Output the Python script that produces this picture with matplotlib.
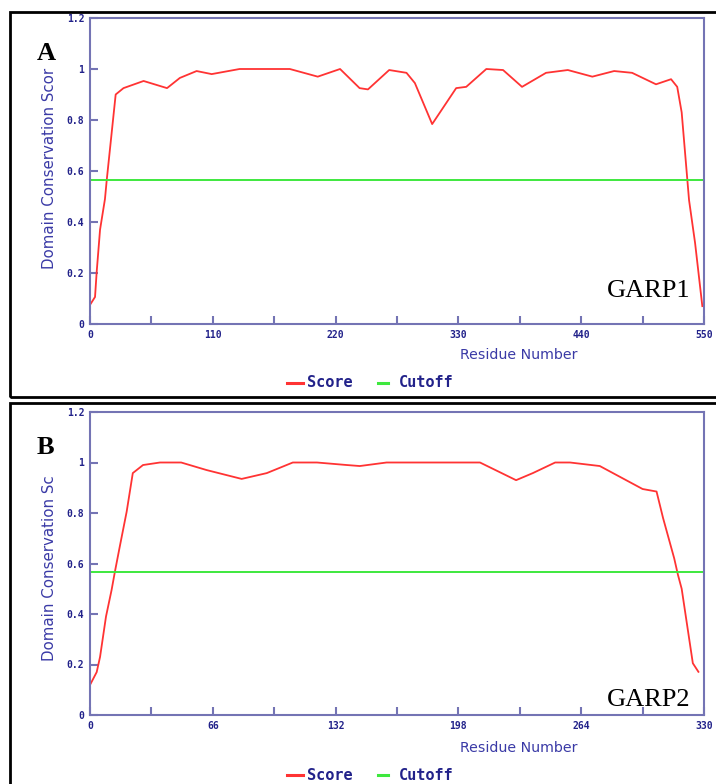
import matplotlib
matplotlib.use("Agg")
import matplotlib.pyplot as plt
from matplotlib.patches import Rectangle
from matplotlib.lines import Line2D

# GARP1 conservation profile (residue, score)
garp1_res = [0, 4.5, 6, 9, 13.4, 15, 23, 30, 48, 69, 80.5, 95.5, 109, 134, 179, 204,
             224, 241.5, 249, 268, 283.5, 291, 306.5, 328, 337, 355, 370, 387, 408.5,
             428, 450, 469.5, 485.6, 507, 520.5, 526, 530, 536.6, 542, 548.5]
garp1_score = [0.075, 0.106, 0.205, 0.37, 0.49, 0.565, 0.90, 0.925, 0.953, 0.925, 0.965,
               0.992, 0.98, 1.0, 1.0, 0.97, 1.0, 0.925, 0.92, 0.996, 0.985, 0.945, 0.784,
               0.925, 0.93, 1.0, 0.996, 0.93, 0.985, 0.996, 0.97, 0.992, 0.985, 0.94,
               0.96, 0.93, 0.83, 0.486, 0.318, 0.07]
garp1_cutoff = 0.565
garp1_ticks = [0, 110, 220, 330, 440, 550]

# GARP2 conservation profile
garp2_res = [0, 3.6, 5.4, 8.6, 11.6, 13.4, 16, 19.7, 23, 28.5, 37.6, 49, 62.7, 81.5, 95,
             109, 122, 138, 145, 159.4, 209.6, 229, 238, 250, 258, 274, 297, 304.5, 308,
             314, 316, 318, 324, 327]
garp2_score = [0.119, 0.17, 0.23, 0.39, 0.495, 0.568, 0.667, 0.805, 0.958, 0.99, 1.0, 1.0,
               0.97, 0.935, 0.958, 1.0, 1.0, 0.99, 0.986, 1.0, 1.0, 0.93, 0.958, 1.0, 1.0,
               0.986, 0.895, 0.885, 0.78, 0.62, 0.555, 0.5, 0.205, 0.171]
garp2_cutoff = 0.565
garp2_ticks = [0, 66, 132, 198, 264, 330]

y_ticks = [0, 0.2, 0.4, 0.6, 0.8, 1.0, 1.2]
y_ticklabels = ["0", "0.2", "0.4", "0.6", "0.8", "1", "1.2"]

W, H = 716, 784
SPINE = "#7474b4"
NAVY = "#22228a"
LABEL = "#3a3aa6"
RED = "#ff3333"
GREEN = "#3ee83e"

fig = plt.figure(figsize=(W / 100, H / 100), dpi=100)


def fx(px):
    return px / W


def fy(py):
    return 1 - py / H


def panel(res, score, cutoff, ticks, top, bottom, frame_top, frame_bottom,
          letter, name, ylabel, name_y, xlabel_y, legend_y, ylabel_y):
    # outer black frame
    fig.patches.append(Rectangle((fx(10), fy(frame_bottom)), fx(720 - 10),
                                 (frame_bottom - frame_top) / H,
                                 transform=fig.transFigure, fill=False,
                                 edgecolor="black", linewidth=2, zorder=0))
    ax = fig.add_axes([fx(90), fy(bottom), fx(704 - 90), (bottom - top) / H])
    ax.plot(res, score, color=RED, linewidth=1.3)
    ax.axhline(cutoff, color=GREEN, linewidth=1.4)
    xmax = ticks[-1]
    ax.set_xlim(0, xmax)
    ax.set_ylim(0, 1.2)
    ax.set_xticks(ticks)
    ax.set_xticks([(a + b) / 2 for a, b in zip(ticks[:-1], ticks[1:])], minor=True)
    ax.set_yticks(y_ticks)
    ax.set_yticklabels(y_ticklabels)
    for s in ax.spines.values():
        s.set_color(SPINE)
        s.set_linewidth(1.5)
    ax.tick_params(direction="in", length=6, width=1.5, color=SPINE,
                   labelcolor=NAVY, labelsize=7, pad=4)
    ax.tick_params(which="minor", direction="in", length=6, width=1.5, color=SPINE)
    for lab in ax.get_xticklabels() + ax.get_yticklabels():
        lab.set_family("DejaVu Sans Mono")
        lab.set_fontweight("bold")

    fig.text(fx(519), fy(xlabel_y), "Residue Number", color=LABEL,
             family="DejaVu Sans", fontsize=10.2, ha="center", va="center")
    fig.text(fx(50), fy(ylabel_y), ylabel, color=LABEL,
             family="DejaVu Sans", fontsize=10.8, rotation=90,
             ha="center", va="center")
    fig.text(fx(37), fy(top + 36), letter, family="Liberation Serif",
             fontweight="bold", fontsize=19, ha="left", va="center")
    fig.text(fx(690), fy(name_y), name, family="Liberation Serif",
             fontsize=19, ha="right", va="center")

    # legend
    fig.add_artist(Line2D([fx(287), fx(303)], [fy(legend_y), fy(legend_y)],
                          color=RED, linewidth=2.2))
    fig.text(fx(307), fy(legend_y), "Score", color=NAVY, family="DejaVu Sans Mono",
             fontweight="bold", fontsize=11, ha="left", va="center")
    fig.add_artist(Line2D([fx(378), fx(388)], [fy(legend_y), fy(legend_y)],
                          color=GREEN, linewidth=2.2))
    fig.text(fx(399), fy(legend_y), "Cutoff", color=NAVY, family="DejaVu Sans Mono",
             fontweight="bold", fontsize=11, ha="left", va="center")
    return ax


panel(garp1_res, garp1_score, garp1_cutoff, garp1_ticks, 18, 324, 12, 397,
      "A", "GARP1", "Domain Conservation Scor", 291, 355, 383, 168)
panel(garp2_res, garp2_score, garp2_cutoff, garp2_ticks, 412, 715, 403, 790,
      "B", "GARP2", "Domain Conservation Sc", 700, 748, 775, 568)

fig.savefig("out.png", dpi=100)
